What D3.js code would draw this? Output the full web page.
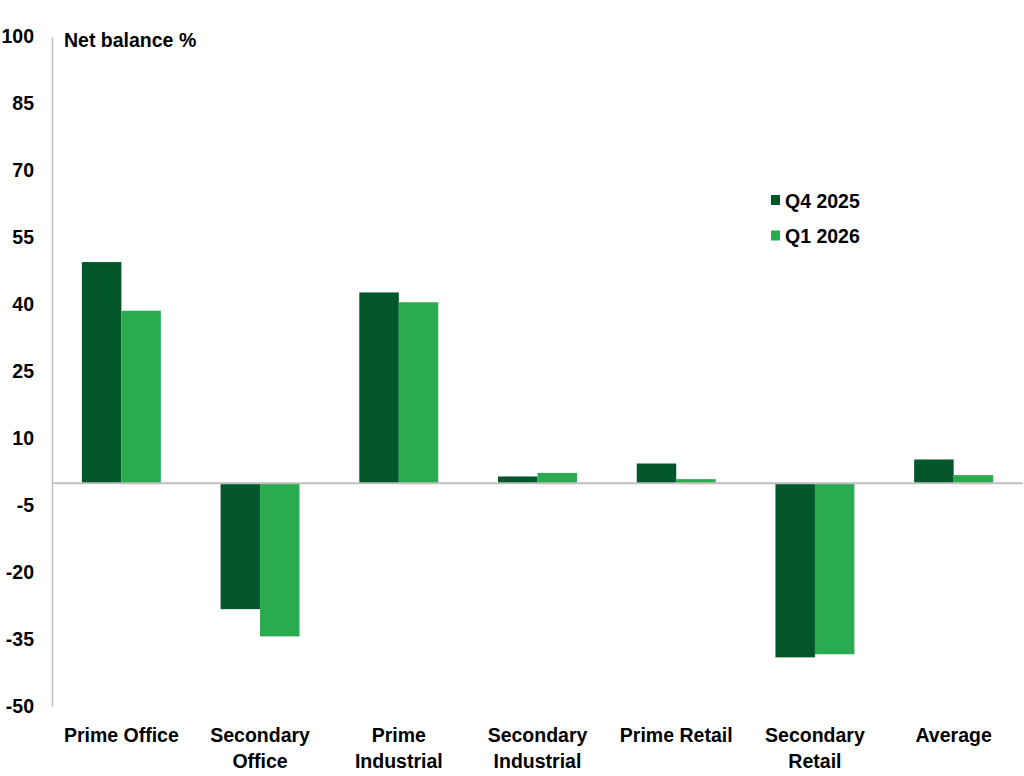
<!DOCTYPE html>
<html>
<head>
<meta charset="utf-8">
<script src="https://cdn.jsdelivr.net/npm/d3@7"></script>
<style>
  body { margin: 0; background: #fff; }
  text { font-family: "Liberation Sans", Arial, sans-serif; font-weight: bold; fill: #000; }
</style>
</head>
<body>
<div id="chart"></div>
<script>
var categories = ['Prime Office', 'Secondary Office', 'Prime Industrial', 'Secondary Industrial',
                  'Prime Retail', 'Secondary Retail', 'Average'];
var categoryLines = [['Prime Office'], ['Secondary', 'Office'], ['Prime', 'Industrial'],
                     ['Secondary', 'Industrial'], ['Prime Retail'], ['Secondary', 'Retail'], ['Average']];
var seriesNames = ['Q4 2025', 'Q1 2026'];
var q4_2025 = [49.5, -28.2, 42.7, 1.5, 4.4, -39.0, 5.3];
var q1_2026 = [38.6, -34.3, 40.5, 2.3, 0.9, -38.3, 1.8];
var yTicks = [100, 85, 70, 55, 40, 25, 10, -5, -20, -35, -50];

var colors = ['#03552a', '#2aab4f'];
var width = 1024;
var height = 776;

var svg = d3.select('#chart').append('svg')
    .attr('width', width)
    .attr('height', height);

var x0 = d3.scaleBand()
    .domain(categories)
    .range([52, 1023]);

var x1 = d3.scaleBand()
    .domain(seriesNames)
    .range([0, x0.bandwidth()])
    .paddingOuter(0.757);

var y = d3.scaleLinear()
    .domain([-50, 100])
    .range([706.5, 36.5]);

var rows = categories.map(function(c, i) {
    return { cat: c, values: [q4_2025[i], q1_2026[i]] };
});

// bars
var groups = svg.selectAll('.cat')
    .data(rows)
  .enter().append('g')
    .attr('class', 'cat')
    .attr('transform', function(d) { return 'translate(' + x0(d.cat) + ',0)'; });

groups.selectAll('rect')
    .data(function(d) {
        return d.values.map(function(v, j) { return { s: seriesNames[j], v: v, j: j }; });
    })
  .enter().append('rect')
    .attr('x', function(d) { return x1(d.s); })
    .attr('width', x1.bandwidth())
    .attr('y', function(d) { return y(Math.max(0, d.v)); })
    .attr('height', function(d) { return Math.abs(y(d.v) - y(0)); })
    .attr('fill', function(d) { return colors[d.j]; });

// y axis line, no ticks; plain hyphen for negatives
var yAxis = d3.axisLeft(y)
    .tickValues(yTicks)
    .tickFormat(function(d) { return String(d); })
    .tickSize(0)
    .tickPadding(18);
var ya = svg.append('g')
    .attr('transform', 'translate(52,0)')
    .call(yAxis);
ya.select('.domain').attr('stroke', '#bfbfbf').attr('stroke-width', 1.5);
ya.selectAll('text')
    .style('font-size', '19.5px')
    .style('font-family', '"Liberation Sans", Arial, sans-serif')
    .style('font-weight', 'bold')
    .attr('fill', '#000');

// zero line
svg.append('line')
    .attr('x1', 52).attr('x2', 1023)
    .attr('y1', y(0)).attr('y2', y(0))
    .attr('stroke', '#bfbfbf')
    .attr('stroke-width', 2);

// category labels
var labels = svg.selectAll('.xlabel')
    .data(categories)
  .enter().append('text')
    .attr('class', 'xlabel')
    .attr('text-anchor', 'middle')
    .style('font-size', '19.5px')
    .attr('y', 742);

labels.selectAll('tspan')
    .data(function(d, i) { return categoryLines[i].map(function(t) { return { t: t, c: d }; }); })
  .enter().append('tspan')
    .attr('x', function(d) { return x0(d.c) + x0.bandwidth() / 2; })
    .attr('dy', function(d, k) { return k === 0 ? 0 : 26; })
    .text(function(d) { return d.t; });

// axis title
svg.append('text')
    .attr('x', 64)
    .attr('y', 47)
    .style('font-size', '19.5px')
    .text('Net balance %');

// legend
var legend = svg.selectAll('.legend')
    .data(seriesNames)
  .enter().append('g')
    .attr('class', 'legend')
    .attr('transform', function(d, i) { return 'translate(771,' + (195 + i * 35.5) + ')'; });

legend.append('rect')
    .attr('width', 9)
    .attr('height', 10)
    .attr('fill', function(d, i) { return colors[i]; });

legend.append('text')
    .attr('x', 14)
    .attr('y', 12.5)
    .style('font-size', '19.5px')
    .text(function(d) { return d; });
</script>
</body>
</html>
